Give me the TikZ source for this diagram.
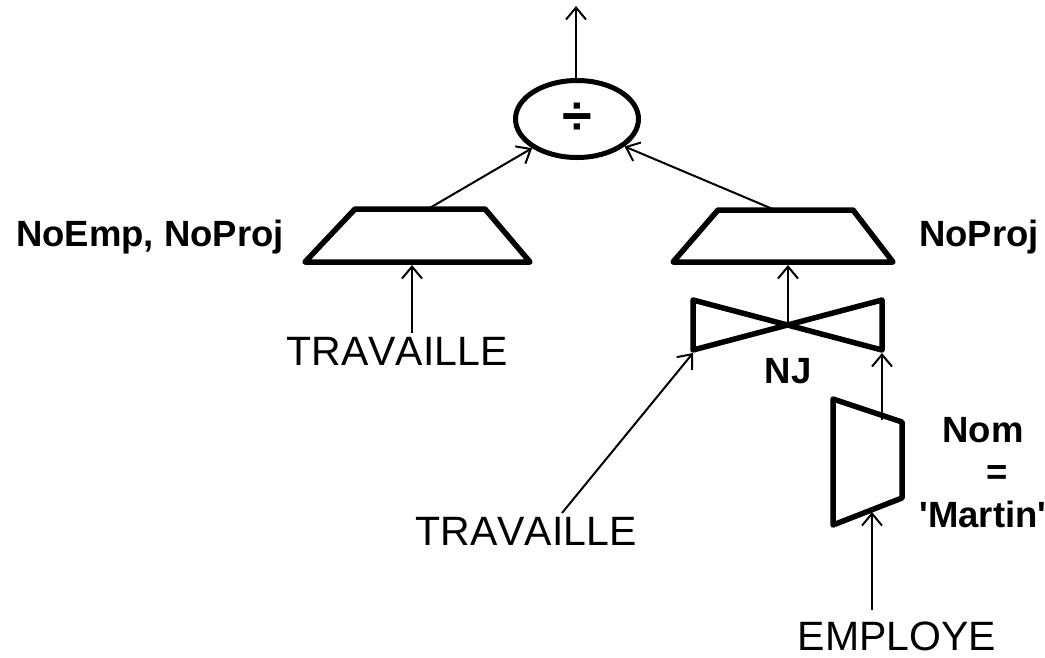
\documentclass[tikz,border=0pt]{standalone}
\usepackage{fontspec}
\setmainfont{Liberation Sans}[Ligatures=TeXOff,Kerning=Off]
\usetikzlibrary{arrows.meta,shapes.geometric}
\begin{document}
\begin{tikzpicture}[x=1pt,y=-1pt,
  shapeline/.style={line width=5.5pt,line join=round,line cap=round},
  conn/.style={line width=2pt,-{Straight Barb[length=12pt,width=20pt,line width=2pt]}},
  rel/.style={font=\fontsize{41}{47}\selectfont,inner sep=0pt},
  lbl/.style={font=\fontsize{36.5}{42.5}\selectfont\bfseries,inner sep=0pt}]
\useasboundingbox (0,0) rectangle (1045,657);
% division
\node[ellipse,draw,line width=5pt,minimum width=123pt,minimum height=77pt,inner sep=0pt,
  font=\fontsize{54}{58}\selectfont\bfseries] (div) at (577,119) {÷};
\coordinate (out) at (576,6);
\draw[conn] (div.north -| out) -- (out);
% left projection
\draw[shapeline] (355,209) -- (485,209) -- (530,262) -- (305,262) -- cycle;
\coordinate (plTop) at (428,209);
\coordinate (plBot) at (412,265);
\node[lbl,anchor=base] (plLbl) at (150,246) {NoEmp, NoProj};
\node[rel] (trav1) at (397,351) {TRAVAILLE};
\draw[conn] ([yshift=4pt]trav1.north -| plBot) -- (plBot);
\draw[conn] (plTop) -- (div.-147);
% right projection
\draw[shapeline] (718,210) -- (853,210) -- (893,262) -- (673,262) -- cycle;
\coordinate (prTop) at (775,210);
\coordinate (prBot) at (788,265);
\node[lbl,anchor=base] (prLbl) at (979,246) {NoProj};
\draw[conn] (prTop) -- (div.-30);
% join
\draw[shapeline] (693,300) -- (882,350) -- (882,300) -- (693,350) -- cycle;
\coordinate (jX) at (788,325);
\coordinate (jBL) at (693,353);
\coordinate (jBR) at (882,353);
\node[lbl,anchor=base] (nj) at (788,383) {NJ};
\draw[conn] (jX) -- (prBot);
\node[rel] (trav2) at (526,531) {TRAVAILLE};
\coordinate (t2s) at (562,513);
\draw[conn] (t2s) -- (jBL);
% selection
\draw[shapeline] (833,399) -- (902,422) -- (902,498) -- (833,525) -- cycle;
\coordinate (sTop) at (882,420);
\coordinate (sBot) at (872,512);
\draw[conn] (sTop) -- (jBR);
\node[lbl,align=center,anchor=base] (cond) at (983,527) {Nom\\\hspace*{0.75em}=\\'Martin'};
\node[rel] (emp) at (897,636) {EMPLOYE};
\draw[conn] ([yshift=11pt]emp.north -| sBot) -- (sBot);
\end{tikzpicture}
\end{document}
